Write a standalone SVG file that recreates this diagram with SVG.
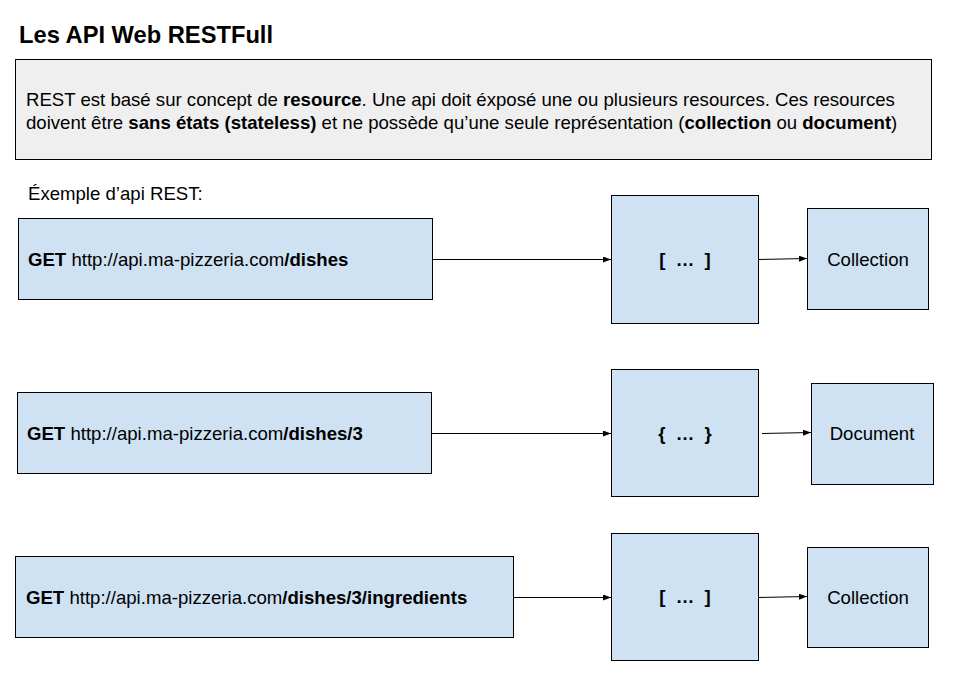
<svg xmlns="http://www.w3.org/2000/svg" width="953" height="691" viewBox="0 0 953 691">
<style>
text{font-family:"Liberation Sans",Arial,sans-serif;fill:#000}
.b{font-weight:bold}
.t{font-size:23.7px;font-weight:bold}
.p{font-size:18.6px}
.box{fill:#cfe2f3;stroke:#000;stroke-width:1}
.note{fill:#efefef;stroke:#000;stroke-width:1}
.c{text-anchor:middle}
.conn line{stroke:#000;stroke-width:1;fill:none;marker-end:url(#ah)}
</style>
<defs>
<marker id="ah" viewBox="0 0 8 6" refX="8" refY="3" markerWidth="8" markerHeight="6" markerUnits="userSpaceOnUse" orient="auto">
<path d="M0,0 L8,3 L0,6 z" fill="#000"/>
</marker>
</defs>
<rect width="953" height="691" fill="#fff"/>
<g id="title"><text class="t" x="19" y="43">Les API Web RESTFull</text></g>
<g id="intro">
<rect class="note" x="15.5" y="59.5" width="916" height="100"/>
<text class="p" x="26" y="105.5">REST est basé sur concept de <tspan class="b">resource</tspan>. Une api doit éxposé une ou plusieurs resources. Ces resources</text>
<text class="p" x="26" y="129">doivent être <tspan class="b">sans états (stateless)</tspan> et ne possède qu’une seule représentation (<tspan class="b">collection</tspan> ou <tspan class="b">document</tspan>)</text>
</g>
<g id="example-label"><text class="p" x="28" y="200">Éxemple d’api REST:</text></g>
<g id="req1">
<rect class="box" x="18.5" y="218.5" width="414" height="81"/>
<text class="p" x="28" y="266"><tspan class="b">GET</tspan> http://api.ma-pizzeria.com<tspan class="b">/dishes</tspan></text>
</g>
<g id="res1">
<rect class="box" x="611.5" y="195.5" width="147" height="128"/>
<text class="p b c" x="685" y="265.5" xml:space="preserve" style="white-space:pre">[  …  ]</text>
</g>
<g id="type1">
<rect class="box" x="807.5" y="208.5" width="121" height="101"/>
<text class="p c" x="868" y="265.5">Collection</text>
</g>
<g id="req2">
<rect class="box" x="17.5" y="392.5" width="414" height="81"/>
<text class="p" x="27" y="440"><tspan class="b">GET</tspan> http://api.ma-pizzeria.com<tspan class="b">/dishes/3</tspan></text>
</g>
<g id="res2">
<rect class="box" x="611.5" y="369.5" width="147" height="127"/>
<text class="p b c" x="685" y="439.5" xml:space="preserve" style="white-space:pre">{  …  }</text>
</g>
<g id="type2">
<rect class="box" x="811.5" y="383.5" width="122" height="101"/>
<text class="p c" x="872" y="440">Document</text>
</g>
<g id="req3">
<rect class="box" x="15.5" y="556.5" width="498" height="81"/>
<text class="p" x="26" y="604"><tspan class="b">GET</tspan> http://api.ma-pizzeria.com<tspan class="b">/dishes/3/ingredients</tspan></text>
</g>
<g id="res3">
<rect class="box" x="611.5" y="533.5" width="147" height="127"/>
<text class="p b c" x="685" y="603" xml:space="preserve" style="white-space:pre">[  …  ]</text>
</g>
<g id="type3">
<rect class="box" x="807.5" y="547.5" width="121" height="100"/>
<text class="p c" x="868" y="604">Collection</text>
</g>
<g id="connectors" class="conn">
<line x1="432.5" y1="259.5" x2="611" y2="259.5"/>
<line x1="758.5" y1="259.5" x2="807" y2="258.5"/>
<line x1="431.5" y1="433.5" x2="611" y2="433.5"/>
<line x1="762" y1="433.5" x2="811" y2="432.5"/>
<line x1="513.5" y1="597.5" x2="611" y2="597.5"/>
<line x1="758.5" y1="597.5" x2="807" y2="596.5"/>
</g>
</svg>
